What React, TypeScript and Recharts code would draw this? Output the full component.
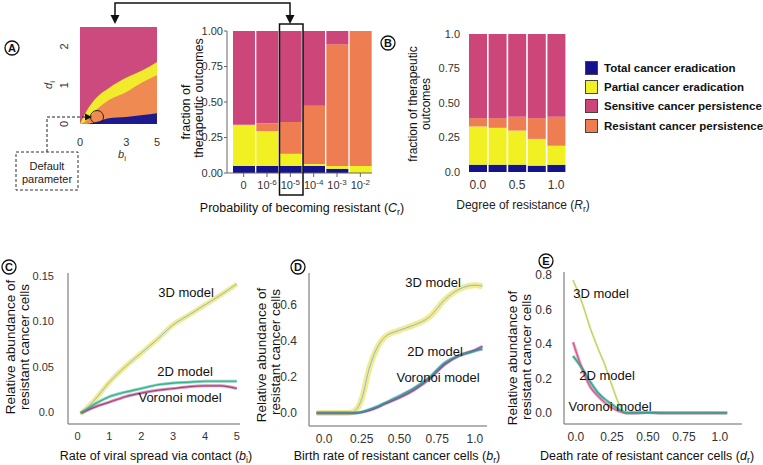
import React from 'react';
import {
  ComposedChart,
  Area,
  BarChart,
  Bar,
  LineChart,
  Line,
  XAxis,
  YAxis,
  CartesianGrid,
  Legend,
} from 'recharts';

const FONT = '"Liberation Sans", Arial, sans-serif';

const BLUE = '#14128C';
const YELLOW = '#F0F022';
const PINK = '#CD4679';
const ORANGE = '#EE7D52';

// A: outcome map over (b_i, d_i); boundaries of each region
const mapB = [0, 0.39, 1.04, 1.88, 2.99, 4.09, 5];
const mapPartialTop = [0, 0.31, 0.67, 0.93, 1.19, 1.39, 1.6];
const mapResistantTop = [0, 0.08, 0.36, 0.62, 0.82, 1.08, 1.26];
const mapTotalTop = [0, 0, 0.05, 0.15, 0.18, 0.23, 0.28];

// A: outcomes vs probability of becoming resistant
const crExp = ['0', '-6', '-5', '-4', '-3', '-2'];
const crTotal = [0.05, 0.05, 0.05, 0.05, 0.03, 0];
const crPartial = [0.29, 0.245, 0.085, 0.013, 0.02, 0.05];
const crResistant = [0, 0.055, 0.225, 0.41, 0.856, 0.95];
const crSensitive = [0.66, 0.65, 0.64, 0.527, 0.094, 0];

// B: outcomes vs degree of resistance
const rLevels = ['0.0', '0.25', '0.5', '0.75', '1.0'];
const rTotal = [0.053, 0.053, 0.053, 0.046, 0.053];
const rPartial = [0.277, 0.267, 0.247, 0.194, 0.137];
const rResistant = [0.06, 0.07, 0.1, 0.15, 0.21];
const rSensitive = [0.61, 0.61, 0.6, 0.61, 0.6];

const legendItems = [
  { name: 'Total cancer eradication', color: BLUE },
  { name: 'Partial cancer eradication', color: YELLOW },
  { name: 'Sensitive cancer persistence', color: PINK },
  { name: 'Resistant cancer persistence', color: ORANGE },
];

// C: rate of viral spread
const cX = [0.1, 0.5, 1, 1.5, 2, 2.5, 3, 3.5, 4, 4.5, 5];
const c3D = [-0.002, 0.012, 0.033, 0.05, 0.065, 0.08, 0.096, 0.107, 0.118, 0.129, 0.141];
const c2D = [-0.001, 0.008, 0.017, 0.022, 0.026, 0.03, 0.032, 0.033, 0.034, 0.034, 0.034];
const cVor = [-0.001, 0.005, 0.011, 0.017, 0.021, 0.024, 0.026, 0.028, 0.029, 0.029, 0.026];

// D: birth rate of resistant cells
const dX = [-0.05, 0.05, 0.15, 0.2, 0.25, 0.3, 0.35, 0.4, 0.5, 0.6, 0.7, 0.8, 0.9, 1.0, 1.05];
const d3D = [0.0, 0.0, 0.0, 0.01, 0.08, 0.25, 0.36, 0.42, 0.46, 0.49, 0.535, 0.63, 0.69, 0.71, 0.705];
const d2D = [0.0, 0.0, 0.0, 0.0, 0.005, 0.02, 0.035, 0.055, 0.095, 0.14, 0.2, 0.28, 0.32, 0.345, 0.355];
const dVor = [0.0, 0.0, 0.0, 0.0, 0.005, 0.015, 0.03, 0.05, 0.085, 0.13, 0.19, 0.27, 0.32, 0.35, 0.37];

// E: death rate of resistant cells
const eX = [-0.02, 0.05, 0.1, 0.15, 0.2, 0.25, 0.3, 0.35, 0.4, 0.5, 0.6, 0.7, 0.8, 0.9, 1.0, 1.05];
const e3D = [0.77, 0.62, 0.49, 0.38, 0.28, 0.16, 0.05, 0.0, 0.005, 0.006, 0.004, 0.003, 0.004, 0.005, 0.006, 0.006];
const e2D = [0.33, 0.25, 0.18, 0.12, 0.08, 0.05, 0.02, 0.0, 0.0, 0.002, 0.0, 0.0, 0.0, 0.0, 0.0, 0.0];
const eVor = [0.41, 0.24, 0.15, 0.1, 0.06, 0.03, 0.01, 0.0, 0.0, 0.002, 0.0, 0.0, 0.0, 0.0, 0.0, 0.0];

const mapData = mapB.map((b, i) => ({
  b,
  partial: mapPartialTop[i],
  resistant: mapResistantTop[i],
  total: mapTotalTop[i],
}));

const crData = crExp.map((exp, i) => ({
  exp,
  total: crTotal[i],
  partial: crPartial[i],
  resistant: crResistant[i],
  sensitive: crSensitive[i],
}));

const rData = rLevels.map((r, i) => ({
  r,
  total: rTotal[i],
  partial: rPartial[i],
  resistant: rResistant[i],
  sensitive: rSensitive[i],
}));

const toRows = (xs: number[], a: number[], b: number[], c: number[]) =>
  xs.map((x, i) => ({ x, v3: a[i], v2: b[i], vv: c[i] }));

const cData = toRows(cX, c3D, c2D, cVor);
const dData = toRows(dX, d3D, d2D, dVor);
const eData = toRows(eX, e3D, e2D, eVor);

const MapYTick = (props: any) => {
  const { x, y, payload } = props;
  const tx = x - 4;
  return (
    <text x={tx} y={y} transform={`rotate(-90 ${tx} ${y})`} textAnchor="middle" fontSize={11} fill="#333">
      {payload.value}
    </text>
  );
};

const CrTick = (props: any) => {
  const { x, y, payload } = props;
  const v = payload.value;
  return (
    <text x={x} y={y + 10} textAnchor="middle" fontSize={11} fill="#333">
      {v === '0' ? (
        '0'
      ) : (
        <>
          10
          <tspan dy={-4} fontSize={8}>
            {v}
          </tspan>
        </>
      )}
    </text>
  );
};

const renderLegend = () => (
  <div style={{ fontFamily: FONT }}>
    {legendItems.map((it, i) => (
      <div key={it.name} style={{ display: 'flex', alignItems: 'center', height: i === 1 ? 18 : 20, whiteSpace: 'nowrap' }}>
        <span
          style={{
            display: 'inline-block',
            width: 11,
            height: 12,
            background: it.color,
            border: '1px solid #444',
            marginRight: 6,
          }}
        />
        <span style={{ fontSize: 11.5, fontWeight: 'bold', color: '#111' }}>{it.name}</span>
      </div>
    ))}
  </div>
);

const lineSet = (c3: string, c3mid: string, c2: string, cv: string, w3: number) => [
  <Line key="v3b" dataKey="v3" type="monotone" stroke={c3} strokeWidth={w3} strokeOpacity={0.75} dot={false} isAnimationActive={false} />,
  <Line key="v2b" dataKey="v2" type="monotone" stroke={c2} strokeWidth={3} strokeOpacity={0.55} dot={false} isAnimationActive={false} />,
  <Line key="vvb" dataKey="vv" type="monotone" stroke={cv} strokeWidth={3} strokeOpacity={0.55} dot={false} isAnimationActive={false} />,
  <Line key="v3" dataKey="v3" type="monotone" stroke={c3mid} strokeWidth={1} dot={false} isAnimationActive={false} />,
  <Line key="vv" dataKey="vv" type="monotone" stroke={cv} strokeWidth={1.2} dot={false} isAnimationActive={false} />,
  <Line key="v2" dataKey="v2" type="monotone" stroke={c2} strokeWidth={1.2} dot={false} isAnimationActive={false} />,
];

const axisStroke = { stroke: '#666' };
const fmt1 = (v: number) => (v === 0 ? '0.0' : v === 1 ? '1.0' : v.toFixed(2));
const fmtD = (v: number) => v.toFixed(1);

const Rotated = ({ x, y, size = 13, children }: any) => (
  <text x={x} y={y} transform={`rotate(-90 ${x} ${y})`} textAnchor="middle" dominantBaseline="central" fontSize={size} fill="#111">
    {children}
  </text>
);

const PanelTag = ({ x, y, letter }: any) => (
  <g>
    <circle cx={x} cy={y} r={7} fill="#fff" stroke="#111" strokeWidth={1.3} />
    <text x={x} y={y + 4} textAnchor="middle" fontSize={11} fontWeight="bold" fill="#111">
      {letter}
    </text>
  </g>
);

const Sub = ({ v, s }: any) => (
  <>
    <tspan fontStyle="italic">{v}</tspan>
    <tspan dy={3} fontSize="0.7em">
      {s}
    </tspan>
    <tspan dy={-3}>)</tspan>
  </>
);

export default function App() {
  return (
    <div style={{ position: 'absolute', left: 0, top: 0, width: 763, height: 465, background: '#fff', fontFamily: FONT, overflow: 'hidden' }}>
      {/* A: outcome map */}
      <div style={{ position: 'absolute', left: 50, top: 20 }}>
        <ComposedChart width={120} height={140} data={mapData} margin={{ top: 7, right: 13, bottom: 6, left: 0 }}>
          <CartesianGrid fill="#CC4A7E" stroke="none" horizontal={false} vertical={false} />
          <XAxis type="number" dataKey="b" domain={[0, 5]} ticks={[0, 3, 5]} axisLine={false} tickLine={false} height={30} tickMargin={8} tick={{ fontSize: 11, fill: '#333' }} />
          <YAxis type="number" domain={[0, 2.5]} ticks={[0, 1, 2]} width={30} axisLine={false} tickLine={false} allowDataOverflow tick={(p: any) => <MapYTick {...p} />} />
          <Area dataKey="partial" type="monotone" fill="#F2EA2C" fillOpacity={1} stroke="none" isAnimationActive={false} />
          <Area dataKey="resistant" type="monotone" fill="#EF8A52" fillOpacity={1} stroke="none" isAnimationActive={false} />
          <Area dataKey="total" type="monotone" fill="#1C1A8E" fillOpacity={1} stroke="none" isAnimationActive={false} />
        </ComposedChart>
      </div>

      {/* A: bars over C_r */}
      <div style={{ position: 'absolute', left: 180, top: 20 }}>
        <BarChart width={200} height={178} data={crData} margin={{ top: 11, right: 8, bottom: 0, left: 0 }} barSize={22}>
          <XAxis dataKey="exp" padding={{ left: 5, right: 0 }} height={25} interval={0} axisLine={axisStroke} tickLine={axisStroke} tickSize={4} tick={(p: any) => <CrTick {...p} />} />
          <YAxis type="number" domain={[0, 1]} ticks={[0, 0.25, 0.5, 0.75, 1]} width={47} tickFormatter={(v: number) => v.toFixed(2)} axisLine={axisStroke} tickLine={axisStroke} tickSize={3} tickMargin={1} tick={{ fontSize: 11, fill: '#333' }} />
          <Bar dataKey="total" stackId="s" fill={BLUE} isAnimationActive={false} />
          <Bar dataKey="partial" stackId="s" fill={YELLOW} isAnimationActive={false} />
          <Bar dataKey="resistant" stackId="s" fill={ORANGE} isAnimationActive={false} />
          <Bar dataKey="sensitive" stackId="s" fill={PINK} isAnimationActive={false} />
        </BarChart>
      </div>

      {/* B: bars over R_r */}
      <div style={{ position: 'absolute', left: 430, top: 20 }}>
        <BarChart width={333} height={177} data={rData} margin={{ top: 14, right: 197, bottom: 0, left: 0 }} barSize={18}>
          <XAxis dataKey="r" height={25} interval={0} axisLine={false} tickLine={false} tickFormatter={(v: string) => (v === '0.25' || v === '0.75' ? '' : v)} tick={{ fontSize: 12, fill: '#333' }} />
          <YAxis type="number" domain={[0, 1]} ticks={[0, 0.25, 0.5, 0.75, 1]} width={38} axisLine={false} tickLine={false} tickFormatter={fmt1} tick={{ fontSize: 11, fill: '#333' }} />
          <Legend layout="vertical" align="center" verticalAlign="middle" wrapperStyle={{ left: 155, top: 38, width: 180 }} content={renderLegend} />
          <Bar dataKey="total" stackId="s" fill={BLUE} isAnimationActive={false} />
          <Bar dataKey="partial" stackId="s" fill={YELLOW} isAnimationActive={false} />
          <Bar dataKey="resistant" stackId="s" fill={ORANGE} isAnimationActive={false} />
          <Bar dataKey="sensitive" stackId="s" fill={PINK} isAnimationActive={false} />
        </BarChart>
      </div>

      {/* C */}
      <div style={{ position: 'absolute', left: 0, top: 260 }}>
        <LineChart width={250} height={184} data={cData} margin={{ top: 13, right: 10, bottom: 0, left: 0 }}>
          <XAxis type="number" dataKey="x" domain={[-0.3, 5.1]} ticks={[0, 1, 2, 3, 4, 5]} allowDataOverflow height={20} axisLine={axisStroke} tickLine={false} tick={{ fontSize: 11, fill: '#333' }} />
          <YAxis type="number" domain={[-0.013, 0.153]} ticks={[0, 0.05, 0.1, 0.15]} allowDataOverflow width={68} axisLine={axisStroke} tickLine={false} tickMargin={8} tickFormatter={(v: number) => (v === 0 ? '0.0' : v.toFixed(2))} tick={{ fontSize: 11, fill: '#333' }} />
          {lineSet('#EDE46A', '#8FB8D0', '#33B08C', '#A8467E', 5)}
        </LineChart>
      </div>

      {/* D */}
      <div style={{ position: 'absolute', left: 250, top: 260 }}>
        <LineChart width={240} height={186} data={dData} margin={{ top: 13, right: 3, bottom: 0, left: 0 }}>
          <XAxis type="number" dataKey="x" domain={[-0.1, 1.08]} ticks={[0, 0.25, 0.5, 0.75, 1]} allowDataOverflow height={20} axisLine={axisStroke} tickLine={false} tickFormatter={fmt1} tick={{ fontSize: 12, fill: '#333' }} />
          <YAxis type="number" domain={[-0.072, 0.778]} ticks={[0, 0.2, 0.4, 0.6]} allowDataOverflow width={59} axisLine={axisStroke} tickLine={false} tickMargin={6} tickFormatter={fmtD} tick={{ fontSize: 12, fill: '#333' }} />
          {lineSet('#EDE46A', '#8FB8D0', '#2E9A96', '#8E4A8E', 6)}
        </LineChart>
      </div>

      {/* E */}
      <div style={{ position: 'absolute', left: 505, top: 260 }}>
        <LineChart width={240} height={184} data={eData} margin={{ top: 12, right: 3, bottom: 0, left: 0 }}>
          <XAxis type="number" dataKey="x" domain={[-0.083, 1.153]} ticks={[0, 0.25, 0.5, 0.75, 1]} allowDataOverflow height={20} axisLine={axisStroke} tickLine={false} tickFormatter={fmt1} tick={{ fontSize: 12, fill: '#333' }} />
          <YAxis type="number" domain={[-0.064, 0.817]} ticks={[0, 0.2, 0.4, 0.6, 0.8]} allowDataOverflow width={59} axisLine={axisStroke} tickLine={false} tickMargin={6} tickFormatter={fmtD} tick={{ fontSize: 12, fill: '#333' }} />
          {lineSet('#D8DE6A', '#B9CF72', '#29A48E', '#D45A8E', 2)}
        </LineChart>
      </div>

      {/* annotations */}
      <svg width={763} height={465} style={{ position: 'absolute', left: 0, top: 0, pointerEvents: 'none' }} fontFamily={FONT}>
        <path d="M115 17 V3 H290 V17" fill="none" stroke="#111" strokeWidth={1.5} />
        <polygon points="110.5,15 119.5,15 115,24" fill="#111" />
        <polygon points="285.5,15 294.5,15 290,24" fill="#111" />
        <rect x={279.5} y={24} width={23.5} height={171} fill="none" stroke="#111" strokeWidth={1.5} />

        <path d="M47 152 V117 H86" fill="none" stroke="#222" strokeWidth={1} strokeDasharray="3 2" />
        <polygon points="85,113.5 92,117 85,120.5" fill="#111" />
        <circle cx={97} cy={117} r={6.5} fill="none" stroke="#222" strokeWidth={1} />
        <rect x={16} y={152} width={62} height={38} fill="#fff" stroke="#333" strokeWidth={1} strokeDasharray="3 2" />
        <text x={47} y={170} textAnchor="middle" fontSize={11} fill="#222">Default</text>
        <text x={47} y={183} textAnchor="middle" fontSize={11} fill="#222">parameter</text>

        <text x={52} y={85} transform="rotate(-90 52 85)" textAnchor="middle" fontSize={11} fill="#333">
          <tspan fontStyle="italic">d</tspan>
          <tspan dy={3} fontSize={8}>i</tspan>
        </text>
        <text x={122} y={158} textAnchor="middle" fontSize={11} fill="#333">
          <tspan fontStyle="italic">b</tspan>
          <tspan dy={3} fontSize={8}>i</tspan>
        </text>

        <Rotated x={186} y={112} size={12.5}>fraction of</Rotated>
        <Rotated x={199} y={98} size={12.5}>therapeutic outcomes</Rotated>
        <text x={302} y={212} textAnchor="middle" fontSize={12.5} fill="#111">
          Probability of becoming resistant (<Sub v="C" s="r" />
        </text>

        <Rotated x={413} y={104} size={12}>fraction of therapeutic</Rotated>
        <Rotated x={426} y={104} size={12}>outcomes</Rotated>
        <text x={523} y={209} textAnchor="middle" fontSize={12} fill="#222">
          Degree of resistance (<Sub v="R" s="r" />
        </text>

        <Rotated x={10} y={347} size={13.5}>Relative abundance of</Rotated>
        <Rotated x={24} y={347} size={13.5}>resistant cancer cells</Rotated>
        <text x={156} y={460} textAnchor="middle" fontSize={12.5} fill="#111">
          Rate of viral spread via contact (<Sub v="b" s="i" />
        </text>
        <text x={186} y={297} textAnchor="middle" fontSize={13} fill="#111">3D model</text>
        <text x={185} y={376} textAnchor="middle" fontSize={13} fill="#111">2D model</text>
        <text x={180} y={402} textAnchor="middle" fontSize={13} fill="#111">Voronoi model</text>

        <Rotated x={261} y={355} size={13.5}>Relative abundance of</Rotated>
        <Rotated x={275} y={352} size={13.5}>resistant cancer cells</Rotated>
        <text x={397} y={460} textAnchor="middle" fontSize={12.5} fill="#111">
          Birth rate of resistant cancer cells (<Sub v="b" s="r" />
        </text>
        <text x={433} y={287} textAnchor="middle" fontSize={13} fill="#111">3D model</text>
        <text x={435} y={356} textAnchor="middle" fontSize={13} fill="#111">2D model</text>
        <text x={438} y={382} textAnchor="middle" fontSize={13} fill="#111">Voronoi model</text>

        <Rotated x={512} y={358} size={13.5}>Relative abundance of</Rotated>
        <Rotated x={526} y={357} size={13.5}>resistant cancer cells</Rotated>
        <text x={647} y={460} textAnchor="middle" fontSize={12.5} fill="#111">
          Death rate of resistant cancer cells (<Sub v="d" s="r" />
        </text>
        <text x={601} y={298} textAnchor="middle" fontSize={13} fill="#111">3D model</text>
        <text x={607} y={380} textAnchor="middle" fontSize={13} fill="#111">2D model</text>
        <text x={610} y={411} textAnchor="middle" fontSize={13} fill="#111">Voronoi model</text>

        <PanelTag x={12} y={48} letter="A" />
        <PanelTag x={388} y={43} letter="B" />
        <PanelTag x={9} y={267} letter="C" />
        <PanelTag x={298} y={267} letter="D" />
        <PanelTag x={546} y={261} letter="E" />
      </svg>
    </div>
  );
}
